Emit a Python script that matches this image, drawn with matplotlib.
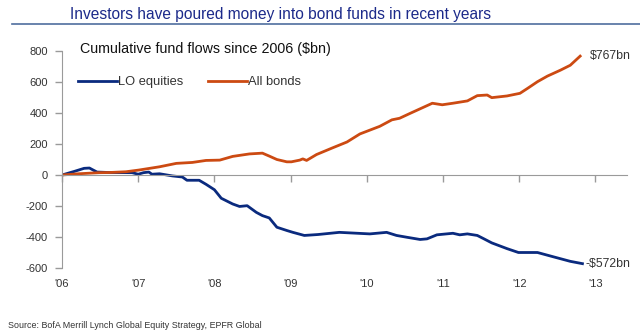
import matplotlib
matplotlib.use("Agg")
import matplotlib.pyplot as plt

plt.rcParams['font.family'] = ['Liberation Sans', 'DejaVu Sans']

# Cumulative fund flows ($bn), sampled as (year fraction, value)
bond_years = [2006.00, 2006.22, 2006.49, 2006.62, 2006.84, 2007.01, 2007.28, 2007.50,
              2007.71, 2007.89, 2008.07, 2008.24, 2008.46, 2008.63, 2008.72, 2008.82,
              2008.95, 2009.01, 2009.12, 2009.16, 2009.21, 2009.34, 2009.55, 2009.74,
              2009.91, 2010.17, 2010.33, 2010.43, 2010.57, 2010.86, 2010.99, 2011.13,
              2011.32, 2011.45, 2011.58, 2011.64, 2011.84, 2012.01, 2012.11, 2012.24,
              2012.37, 2012.54, 2012.67, 2012.80]
bond_vals = [0, 8, 15, 16, 21, 32, 53, 75,
             81, 94, 96, 120, 136, 141, 122, 100,
             85, 85, 96, 104, 94, 132, 175, 213,
             265, 314, 356, 366, 398, 463, 453, 463,
             478, 512, 516, 499, 510, 527, 559, 602,
             638, 676, 708, 767]

eq_years = [2006.00, 2006.16, 2006.29, 2006.36, 2006.39, 2006.46, 2006.62, 2006.92,
            2007.00, 2007.07, 2007.14, 2007.18, 2007.28, 2007.45, 2007.58, 2007.64,
            2007.80, 2007.89, 2008.00, 2008.09, 2008.24, 2008.33, 2008.43, 2008.55,
            2008.63, 2008.72, 2008.82, 2008.95, 2009.03, 2009.18, 2009.36, 2009.64,
            2010.04, 2010.26, 2010.39, 2010.53, 2010.70, 2010.79, 2010.92, 2011.13,
            2011.22, 2011.32, 2011.45, 2011.53, 2011.64, 2011.84, 2011.99, 2012.24,
            2012.45, 2012.67, 2012.83]
eq_vals = [0, 23, 43, 45, 37, 19, 16, 15,
           5, 15, 19, 5, 8, -6, -13, -34,
           -34, -60, -95, -150, -187, -203, -198, -241,
           -262, -277, -337, -358, -370, -390, -384, -370,
           -380, -370, -390, -402, -416, -412, -386, -376,
           -386, -380, -390, -410, -438, -475, -500, -500,
           -528, -557, -572]

year_ticks = [2006, 2007, 2008, 2009, 2010, 2011, 2012, 2013]
year_labels = ["'06", "'07", "'08", "'09", "'10", "'11", "'12", "'13"]
y_ticks = [-600, -400, -200, 0, 200, 400, 600, 800]

BLUE = '#0a2a7e'
ORANGE = '#cc4a12'
GREY = '#9a9a9a'
TXT = '#333333'

fig = plt.figure(figsize=(6.4, 3.36), dpi=100)
ax = fig.add_axes([62 / 640, (336 - 268) / 336, (627 - 62) / 640, (268 - 51) / 336])

ax.plot(eq_years, eq_vals, color=BLUE, lw=2.0, label='LO equities', solid_joinstyle='round')
ax.plot(bond_years, bond_vals, color=ORANGE, lw=2.0, label='All bonds', solid_joinstyle='round')

ax.set_xlim(2006, 2006 + (627 - 62) / 76.2)
ax.set_ylim(-600, 800)

for side in ('top', 'right'):
    ax.spines[side].set_visible(False)
ax.spines['left'].set_color(GREY)
ax.spines['bottom'].set_color(GREY)
ax.spines['bottom'].set_position(('data', 0))

ax.set_yticks(y_ticks)
ax.set_yticklabels([str(v) for v in y_ticks])
ax.tick_params(axis='y', direction='out', length=5, width=1, color=GREY,
               labelsize=8, labelcolor=TXT, pad=5)

ax.set_xticks(year_ticks)
ax.tick_params(axis='x', direction='out', length=5, width=1, color=GREY,
               labelbottom=False)

# year labels along the bottom of the plot area
sec = ax.secondary_xaxis('bottom')
sec.spines['bottom'].set_visible(False)
sec.set_xticks(year_ticks)
sec.set_xticklabels(year_labels)
sec.tick_params(length=0, labelsize=8, labelcolor=TXT, pad=8)

# end-of-series value labels
ax.annotate('$767bn', xy=(bond_years[-1], bond_vals[-1]), xytext=(7, 0),
            textcoords='offset points', va='center', ha='left', fontsize=8.8, color=TXT)
ax.annotate('-$572bn', xy=(eq_years[-1], eq_vals[-1]), xytext=(2, 0),
            textcoords='offset points', va='center', ha='left', fontsize=8.8, color=TXT)

leg = ax.legend(loc='upper left', bbox_to_anchor=(11 / 565, 1 - 20 / 217), ncol=2,
                frameon=False, fontsize=9.3, handlelength=3.0, handletextpad=0.1,
                columnspacing=1.9, borderaxespad=0)
for t in leg.get_texts():
    t.set_color(TXT)

fig.text(80 / 640, 1 - 49 / 336, 'Cumulative fund flows since 2006 ($bn)',
         fontsize=10.3, color='#111111', va='center', ha='left')

fig.text(70 / 640, 1 - 14 / 336, 'Investors have poured money into bond funds in recent years',
         fontsize=11.2, color='#1c2a8a', va='center', ha='left')
fig.add_artist(plt.Line2D([12 / 640, 1.0], [1 - 23.5 / 336, 1 - 23.5 / 336],
                          color='#4f6e9e', lw=1.2, transform=fig.transFigure))

fig.text(8 / 640, 1 - 325 / 336, 'Source: BofA Merrill Lynch Global Equity Strategy, EPFR Global',
         fontsize=6.4, color=TXT, va='center', ha='left')

fig.savefig('out.png', dpi=100)
